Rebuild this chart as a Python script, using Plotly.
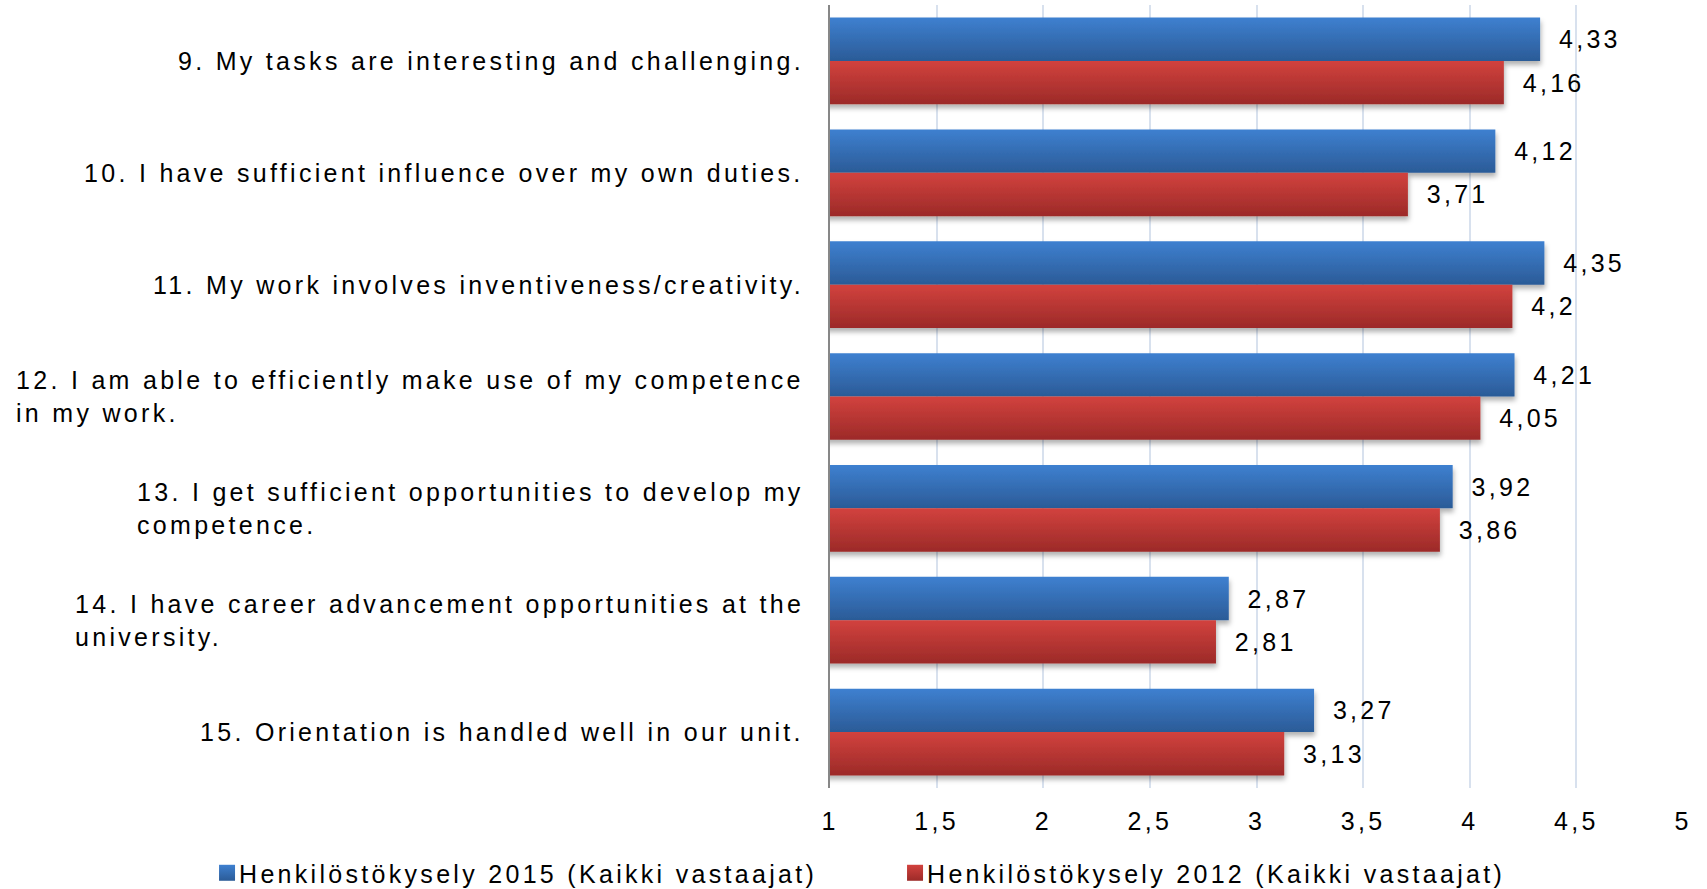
import plotly.graph_objects as go

# Survey statements (a "\n" marks where a long statement wraps)
QUESTIONS = [
    "9. My tasks are interesting and challenging.",
    "10. I have sufficient influence over my own duties.",
    "11. My work involves inventiveness/creativity.",
    "12. I am able to efficiently make use of my competence\nin my work.",
    "13. I get sufficient opportunities to develop my\ncompetence.",
    "14. I have career advancement opportunities at the\nuniversity.",
    "15. Orientation is handled well in our unit.",
]

SERIES_2015 = "Henkilöstökysely 2015 (Kaikki vastaajat)"
SERIES_2012 = "Henkilöstökysely 2012 (Kaikki vastaajat)"

VALUES_2015 = [4.33, 4.12, 4.35, 4.21, 3.92, 2.87, 3.27]
VALUES_2012 = [4.16, 3.71, 4.2, 4.05, 3.86, 2.81, 3.13]

TICKS = [1, 1.5, 2, 2.5, 3, 3.5, 4, 4.5, 5]

FONT = "Liberation Sans, Arial, sans-serif"
SIZE = 25
LS = 3.3  # letter spacing in px


def spaced(s):
    return f'<span style="letter-spacing:{LS}px">{s}</span>'


def fmt(v):
    return f"{v:g}".replace(".", ",")


def bar_labels(vals):
    return [spaced("\u2002" + fmt(v)) for v in vals]


fig = go.Figure()
for name, vals, color in [
    (SERIES_2015, VALUES_2015, "#3469b4"),
    (SERIES_2012, VALUES_2012, "#bd3633"),
]:
    fig.add_trace(go.Bar(
        name=spaced(name),
        y=QUESTIONS,
        x=vals,
        orientation="h",
        marker=dict(color=color, line=dict(width=0)),
        text=bar_labels(vals),
        textposition="outside",
        constraintext="none",
        textfont=dict(family=FONT, size=SIZE, color="#000000"),
        hoverinfo="skip",
    ))

# Category labels: right-aligned block next to the axis, lines left-aligned
for q in QUESTIONS:
    fig.add_annotation(
        x=0, xref="paper", y=q, yref="y",
        xanchor="right", yanchor="middle", xshift=-24,
        align="left", showarrow=False,
        text="<br>".join(spaced(line) for line in q.split("\n")),
        font=dict(family=FONT, size=SIZE, color="#000000"),
    )

fig.update_layout(
    width=1707, height=889, autosize=False,
    margin=dict(l=830, r=24, t=5, b=101, pad=0, autoexpand=False),
    paper_bgcolor="#ffffff", plot_bgcolor="#ffffff",
    font=dict(family=FONT, size=SIZE, color="#000000"),
    barmode="group", bargap=0.225, bargroupgap=0,
    showlegend=True,
    legend=dict(
        orientation="h", x=-0.7397, xanchor="left",
        y=-0.1086, yanchor="middle",
        entrywidth=643, entrywidthmode="pixels",
        font=dict(family=FONT, size=SIZE, color="#000000"),
        bgcolor="rgba(0,0,0,0)", borderwidth=0,
        traceorder="normal",
    ),
    xaxis=dict(
        range=[1, 5], tickvals=TICKS,
        ticktext=[spaced(fmt(t)) for t in TICKS],
        showgrid=True, gridcolor="#d8e1ee", gridwidth=1.5,
        zeroline=False, showline=False, ticks="",
        ticklabelstandoff=16, automargin=False,
        tickfont=dict(family=FONT, size=SIZE, color="#000000"),
    ),
    yaxis=dict(
        type="category", categoryorder="array", categoryarray=QUESTIONS,
        autorange="reversed", showticklabels=False, automargin=False,
        showgrid=False, zeroline=False,
        showline=True, linecolor="#878787", linewidth=2, ticks="",
    ),
)

# Vertical gradient fills and a soft drop shadow on the bars
POST = r"""
(function(){
  document.body.style.margin = '0';
  var gd = document.getElementById('{plot_id}');
  var NS = 'http://www.w3.org/2000/svg';
  var FILLS = [['#3e80d0', '#2b5b97'], ['#d2423e', '#9c2a28']];
  function ensureDefs(){
    if (document.getElementById('barGrad0')) return;
    var svg = gd.querySelector('svg.main-svg');
    var defs = svg.querySelector('defs');
    if (!defs) { defs = document.createElementNS(NS, 'defs'); svg.insertBefore(defs, svg.firstChild); }
    FILLS.forEach(function(c, i){
      var lg = document.createElementNS(NS, 'linearGradient');
      lg.setAttribute('id', 'barGrad' + i);
      lg.setAttribute('x1', '0'); lg.setAttribute('y1', '0');
      lg.setAttribute('x2', '0'); lg.setAttribute('y2', '1');
      [[0, c[0]], [1, c[1]]].forEach(function(s){
        var st = document.createElementNS(NS, 'stop');
        st.setAttribute('offset', s[0]);
        st.setAttribute('stop-color', s[1]);
        lg.appendChild(st);
      });
      defs.appendChild(lg);
    });
    var f = document.createElementNS(NS, 'filter');
    f.setAttribute('id', 'barShadow');
    f.setAttribute('x', '-2%'); f.setAttribute('y', '-20%');
    f.setAttribute('width', '104%'); f.setAttribute('height', '160%');
    var ds = document.createElementNS(NS, 'feDropShadow');
    ds.setAttribute('dx', '1'); ds.setAttribute('dy', '4');
    ds.setAttribute('stdDeviation', '2.5');
    ds.setAttribute('flood-color', '#000');
    ds.setAttribute('flood-opacity', '0.3');
    f.appendChild(ds);
    defs.appendChild(f);
  }
  function dress(){
    ensureDefs();
    gd.querySelectorAll('.barlayer g.trace.bars').forEach(function(g, i){
      g.querySelectorAll('g.point path').forEach(function(p){
        p.style.fill = 'url(#barGrad' + i + ')';
        p.style.filter = 'url(#barShadow)';
      });
    });
    gd.querySelectorAll('.legend g.traces').forEach(function(t, i){
      t.querySelectorAll('.legendpoints path').forEach(function(p){
        p.setAttribute('d', 'M16,8H0V-8H16Z');
        p.style.fill = 'url(#barGrad' + i + ')';
      });
    });
  }
  gd.on('plotly_afterplot', dress);
  dress();
})();
"""

fig.write_html("out.html", post_script=POST)
